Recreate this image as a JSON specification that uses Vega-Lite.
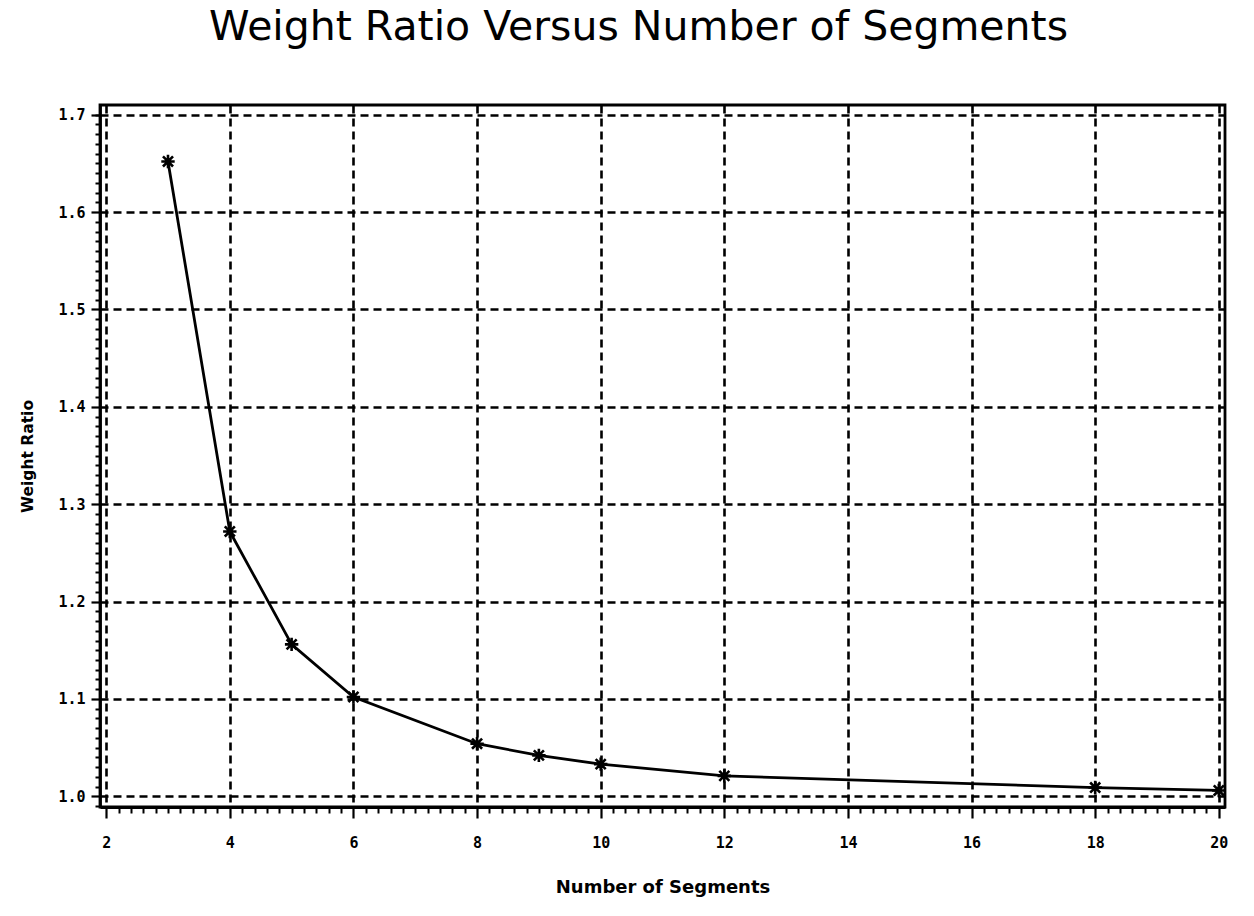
{
  "$schema": "https://vega.github.io/schema/vega-lite/v6.json",
  "autosize": "none",
  "width": 1125,
  "height": 702,
  "padding": {"left": 100, "top": 105, "right": 29, "bottom": 109},
  "background": "white",
  "title": {
    "text": "Weight Ratio Versus Number of Segments",
    "font": "DejaVu Sans",
    "fontSize": 41,
    "fontWeight": "normal",
    "color": "black",
    "anchor": "middle",
    "dx": -24,
    "offset": 56
  },
  "config": {
    "view": {"stroke": "black", "strokeWidth": 2.8},
    "axis": {
      "labelFont": "DejaVu Sans Mono",
      "labelFontWeight": "bold",
      "labelFontSize": 15,
      "labelColor": "black",
      "titleFont": "DejaVu Sans",
      "titleFontWeight": "bold",
      "titleFontSize": 18,
      "titleColor": "black",
      "domainColor": "black",
      "domainWidth": 2.8,
      "tickColor": "black",
      "tickWidth": 2.2,
      "gridColor": "black",
      "gridWidth": 2.6,
      "gridDash": [8, 5],
      "gridOpacity": 1
    }
  },
  "data": {
    "values": [
      {"segments": 3, "ratio": 1.652},
      {"segments": 4, "ratio": 1.272},
      {"segments": 5, "ratio": 1.156},
      {"segments": 6, "ratio": 1.102},
      {"segments": 8, "ratio": 1.054},
      {"segments": 9, "ratio": 1.042},
      {"segments": 10, "ratio": 1.033},
      {"segments": 12, "ratio": 1.021},
      {"segments": 18, "ratio": 1.009},
      {"segments": 20, "ratio": 1.006}
    ]
  },
  "resolve": {"axis": {"x": "independent", "y": "independent"}},
  "layer": [
    {
      "mark": {"type": "line", "color": "black", "strokeWidth": 2.8, "interpolate": "linear"},
      "encoding": {
        "x": {
          "field": "segments", "type": "quantitative",
          "scale": {"domain": [1.9, 20.1], "nice": false, "zero": false},
          "axis": {
            "orient": "bottom",
            "title": "Number of Segments",
            "values": [2, 4, 6, 8, 10, 12, 14, 16, 18, 20],
            "format": "d",
            "tickSize": 11,
            "labelPadding": 17,
            "titlePadding": 28,
            "grid": true
          }
        },
        "y": {
          "field": "ratio", "type": "quantitative",
          "scale": {"domain": [0.989, 1.71], "nice": false, "zero": false},
          "axis": {
            "orient": "left",
            "title": "Weight Ratio",
            "values": [1.0, 1.1, 1.2, 1.3, 1.4, 1.5, 1.6, 1.7],
            "format": ".1f",
            "tickSize": 9,
            "labelPadding": 6,
            "titlePadding": 22,
            "titleFontSize": 15.5,
            "grid": true
          }
        }
      }
    },
    {
      "mark": {
        "type": "point",
        "shape": "M-1,0L1,0M0,-1L0,1M-0.75,-0.75L0.75,0.75M-0.75,0.75L0.75,-0.75",
        "filled": false,
        "stroke": "black",
        "strokeWidth": 2.6,
        "size": 180,
        "opacity": 1
      },
      "encoding": {
        "x": {
          "field": "segments", "type": "quantitative",
          "axis": {
            "orient": "bottom",
            "title": null,
            "labels": false,
            "grid": false,
            "domain": false,
            "tickSize": 6,
            "tickWidth": 2,
            "values": [2.2,2.4,2.6,2.8,3,3.2,3.4,3.6,3.8,4.2,4.4,4.6,4.8,5,5.2,5.4,5.6,5.8,6.2,6.4,6.6,6.8,7,7.2,7.4,7.6,7.8,8.2,8.4,8.6,8.8,9,9.2,9.4,9.6,9.8,10.2,10.4,10.6,10.8,11,11.2,11.4,11.6,11.8,12.2,12.4,12.6,12.8,13,13.2,13.4,13.6,13.8,14.2,14.4,14.6,14.8,15,15.2,15.4,15.6,15.8,16.2,16.4,16.6,16.8,17,17.2,17.4,17.6,17.8,18.2,18.4,18.6,18.8,19,19.2,19.4,19.6,19.8]
          }
        },
        "y": {
          "field": "ratio", "type": "quantitative",
          "axis": {
            "orient": "left",
            "title": null,
            "labels": false,
            "grid": false,
            "domain": false,
            "tickSize": 5,
            "tickWidth": 2,
            "values": [0.99,1.01,1.02,1.03,1.04,1.05,1.06,1.07,1.08,1.09,1.11,1.12,1.13,1.14,1.15,1.16,1.17,1.18,1.19,1.21,1.22,1.23,1.24,1.25,1.26,1.27,1.28,1.29,1.31,1.32,1.33,1.34,1.35,1.36,1.37,1.38,1.39,1.41,1.42,1.43,1.44,1.45,1.46,1.47,1.48,1.49,1.51,1.52,1.53,1.54,1.55,1.56,1.57,1.58,1.59,1.61,1.62,1.63,1.64,1.65,1.66,1.67,1.68,1.69,1.70]
          }
        }
      }
    }
  ]
}
